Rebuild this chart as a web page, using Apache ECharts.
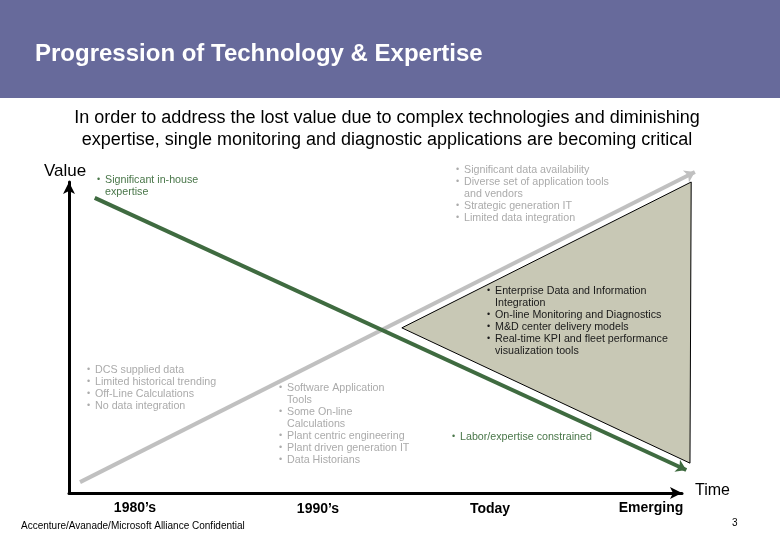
<!DOCTYPE html>
<html>
<head>
<meta charset="utf-8">
<script src="https://cdn.jsdelivr.net/npm/echarts@6/dist/echarts.min.js"></script>
<style>html,body{margin:0;padding:0;background:#fff}#c{width:780px;height:540px}</style>
</head>
<body>
<div id="c"></div>
<script>
// Data (time 0..100, value 0..100)
var expertiseLine = [[4.2, 94.9], [100.7, 7.4]];
var technologyLine = [[1.8, 3.5], [102.1, 103.2]];
var gapTriangle = [[54.3, 53.1], [101.5, 100.0], [101.3, 9.6]];
var eraLabels = ["1980\u2019s", "1990\u2019s", "Today", "Emerging"];

var titleText = "Progression of Technology & Expertise";
var subtitleLines = ["In order to address the lost value due to complex technologies and diminishing",
  "expertise, single monitoring and diagnostic applications are becoming critical"];

var blockInHouse = [["Significant in-house", true], ["expertise", false]];
var blockTopRight = [["Significant data availability", true], ["Diverse set of application tools", true], ["and vendors", false], ["Strategic generation IT", true], ["Limited data integration", true]];
var blockTriangle = [["Enterprise Data and Information", true], ["Integration", false], ["On-line Monitoring and Diagnostics", true], ["M&D center delivery models", true], ["Real-time KPI and fleet performance", true], ["visualization tools", false]];
var blockEighties = [["DCS supplied data", true], ["Limited historical trending", true], ["Off-Line Calculations", true], ["No data integration", true]];
var blockNineties = [["Software Application", true], ["Tools", false], ["Some On-line", true], ["Calculations", false], ["Plant centric engineering", true], ["Plant driven generation IT", true], ["Data Historians", true]];
var blockLabor = [["Labor/expertise constrained", true]];

var FONT = 'Liberation Sans, Arial, sans-serif';

function block(lines, bx, tx, y0, color) {
  var els = [];
  var bul = lines.map(function (l) { return l[1] ? '\u2022' : ''; }).join('\n');
  var txt = lines.map(function (l) { return l[0]; }).join('\n');
  els.push({ type: 'text', z: 100, left: bx, top: y0, style: { text: bul, fill: color, font: '9px ' + FONT, lineHeight: 12 } });
  els.push({ type: 'text', z: 100, left: tx, top: y0, style: { text: txt, fill: color, font: '10.7px ' + FONT, lineHeight: 12 } });
  return els;
}

var graphics = [
  { type: 'rect', shape: { x: 0, y: 0, width: 780, height: 98 }, style: { fill: '#676a9b' }, z: -1 },
  { type: 'text', z: 100, left: 35, top: 42, style: { text: titleText, fill: '#ffffff', font: 'bold 24px ' + FONT } },
  { type: 'text', z: 100, x: 387, y: 107, style: { text: subtitleLines.join('\n'), fill: '#000', font: '18px ' + FONT, lineHeight: 22, align: 'center' } },
  { type: 'text', z: 100, left: 44, top: 163, style: { text: 'Value', fill: '#000', font: '17px ' + FONT } },
  { type: 'text', z: 100, left: 695, top: 483, style: { text: 'Time', fill: '#000', font: '16px ' + FONT } },
  { type: 'text', z: 100, left: 21, top: 521, style: { text: 'Accenture/Avanade/Microsoft Alliance Confidential', fill: '#000', font: '10px ' + FONT } },
  { type: 'text', z: 100, left: 732, top: 518, style: { text: '3', fill: '#000', font: '10px ' + FONT } }
];
var eraX = [135, 318, 490, 651];
var eraY = [508, 509, 509, 508];
eraLabels.forEach(function (t, i) {
  graphics.push({ type: 'text', z: 100, x: eraX[i], y: eraY[i], style: { text: t, fill: '#000', font: 'bold 14px ' + FONT, align: 'center', verticalAlign: 'middle' } });
});
graphics = graphics
  .concat(block(blockInHouse, 97, 105, 174, '#4a774a'))
  .concat(block(blockTopRight, 456, 464, 164, '#ababab'))
  .concat(block(blockTriangle, 487, 495, 285, '#1a1a1a'))
  .concat(block(blockEighties, 87, 95, 364, '#ababab'))
  .concat(block(blockNineties, 279, 287, 382, '#ababab'))
  .concat(block(blockLabor, 452, 460, 431, '#4a774a'));

var chart = echarts.init(document.getElementById('c'));
chart.setOption({
  animation: false,
  backgroundColor: '#fff',
  grid: { left: 69, right: 98, top: 182, bottom: 47 },
  xAxis: {
    type: 'value', min: 0, max: 100,
    axisLine: { show: true, onZero: false, symbol: ['none', 'arrow'], symbolSize: [9, 12], lineStyle: { color: '#000', width: 3 } },
    axisTick: { show: false }, axisLabel: { show: false }, splitLine: { show: false }
  },
  yAxis: {
    type: 'value', min: 0, max: 100,
    axisLine: { show: true, onZero: false, symbol: ['none', 'arrow'], symbolSize: [9, 12], lineStyle: { color: '#000', width: 3 } },
    axisTick: { show: false }, axisLabel: { show: false }, splitLine: { show: false }
  },
  series: [
    {
      type: 'custom', clip: false, z: 1,
      renderItem: function (params, api) {
        var pts = gapTriangle.map(function (p) { return api.coord(p); });
        return { type: 'polygon', shape: { points: pts }, style: { fill: '#c8c8b5', stroke: '#000', lineWidth: 1 } };
      },
      data: [0]
    },
    {
      type: 'lines', coordinateSystem: 'cartesian2d', z: 2, clip: false,
      symbol: ['none', 'arrow'], symbolSize: 10,
      lineStyle: { color: '#c0c0c0', width: 4, opacity: 1 },
      data: [{ coords: technologyLine }]
    },
    {
      type: 'lines', coordinateSystem: 'cartesian2d', z: 3, clip: false,
      symbol: ['none', 'arrow'], symbolSize: 10,
      lineStyle: { color: '#3f6b40', width: 4, opacity: 1 },
      data: [{ coords: expertiseLine }]
    }
  ],
  graphic: graphics
});
</script>
</body>
</html>
